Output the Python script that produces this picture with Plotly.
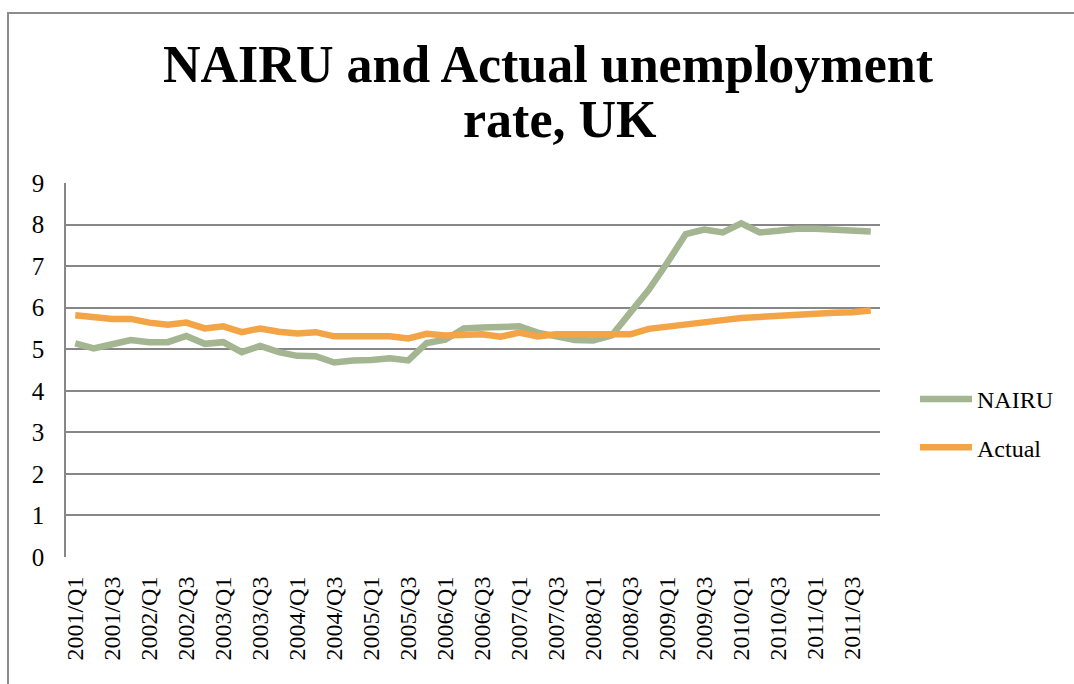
import plotly.graph_objects as go

# Quarterly periods, 2001 Q1 – 2011 Q4
quarters = [f"{y}/Q{q}" for y in range(2001, 2012) for q in range(1, 5)]

# NAIRU estimate (%)
nairu = [5.14, 5.02, 5.12, 5.22, 5.17, 5.17, 5.32, 5.13,
         5.17, 4.93, 5.08, 4.93, 4.84, 4.83, 4.68, 4.73,
         4.74, 4.78, 4.73, 5.15, 5.23, 5.50, 5.52, 5.55,
         5.55, 5.40, 5.32, 5.22, 5.21, 5.33, 5.88, 6.43,
         7.08, 7.77, 7.88, 7.81, 8.03, 7.81, 7.85, 7.90,
         7.90, 7.88, 7.83, 7.83]

# Actual unemployment rate (%)
actual = [5.82, 5.77, 5.73, 5.73, 5.64, 5.59, 5.64, 5.50,
          5.55, 5.41, 5.50, 5.42, 5.38, 5.41, 5.31, 5.31,
          5.31, 5.31, 5.26, 5.37, 5.33, 5.36, 5.36, 5.30,
          5.40, 5.31, 5.36, 5.36, 5.36, 5.36, 5.36, 5.49,
          5.55, 5.60, 5.65, 5.70, 5.75, 5.78, 5.82, 5.84,
          5.86, 5.88, 5.89, 5.93]

y_ticks = [0, 1, 2, 3, 4, 5, 6, 7, 8, 9]
x_ticks = quarters[::2]

FONT = "Liberation Serif"
GREEN = "#A4B591"
ORANGE = "#F3A446"
GRID = "#878787"

fig = go.Figure()
fig.add_trace(go.Scatter(x=quarters, y=nairu, mode="lines", name="NAIRU",
                         legendgroup="a",
                         line=dict(color=GREEN, width=6.5)))
fig.add_trace(go.Scatter(x=quarters, y=actual, mode="lines", name="Actual",
                         legendgroup="b",
                         line=dict(color=ORANGE, width=6.5)))

W, H = 1074, 684
L, R, T, B = 66, 194, 183, 127
pw, ph = W - L - R, H - T - B

def px_x(x):
    return (x - L) / pw

def px_y(y):
    return (H - B - y) / ph

fig.update_layout(
    width=W, height=H,
    margin=dict(l=L, r=R, t=T, b=B),
    paper_bgcolor="white", plot_bgcolor="white",
    font=dict(family=FONT, color="black", size=24),
    showlegend=True,
    legend=dict(x=px_x(915), y=px_y(377), xanchor="left", yanchor="top",
                font=dict(family=FONT, size=24), tracegroupgap=14,
                itemwidth=52, bgcolor="rgba(0,0,0,0)"),
    xaxis=dict(type="category", categoryorder="array", categoryarray=quarters,
               tickmode="array", tickvals=x_ticks, ticktext=x_ticks,
               tickangle=-90, showgrid=False, zeroline=False,
               showline=False, ticks="outside", ticklen=9,
               tickcolor="rgba(0,0,0,0)", tickfont=dict(size=24),
               range=[-0.5, len(quarters) - 0.5]),
    yaxis=dict(range=[0, 9], tickmode="array", tickvals=y_ticks,
               showgrid=True, gridcolor=GRID, gridwidth=1.6,
               zeroline=False, showline=True, linecolor=GRID, linewidth=1.6,
               ticks="outside", ticklen=15, tickcolor="rgba(0,0,0,0)",
               tickfont=dict(size=25)),
    shapes=[
        dict(type="rect", xref="paper", yref="paper",
             x0=px_x(8), x1=px_x(1090), y0=px_y(700), y1=px_y(13),
             line=dict(color="#8C8C8C", width=2), layer="below"),
    ],
    annotations=[
        dict(text="<b>NAIRU and Actual unemployment</b>", xref="paper", yref="paper",
             x=px_x(548), y=px_y(64), xanchor="center", yanchor="middle",
             showarrow=False, font=dict(family=FONT, size=52, color="black")),
        dict(text="<b>rate, UK</b>", xref="paper", yref="paper",
             x=px_x(560), y=px_y(119), xanchor="center", yanchor="middle",
             showarrow=False, font=dict(family=FONT, size=52, color="black")),
    ],
)

fig.write_html("out.html")
